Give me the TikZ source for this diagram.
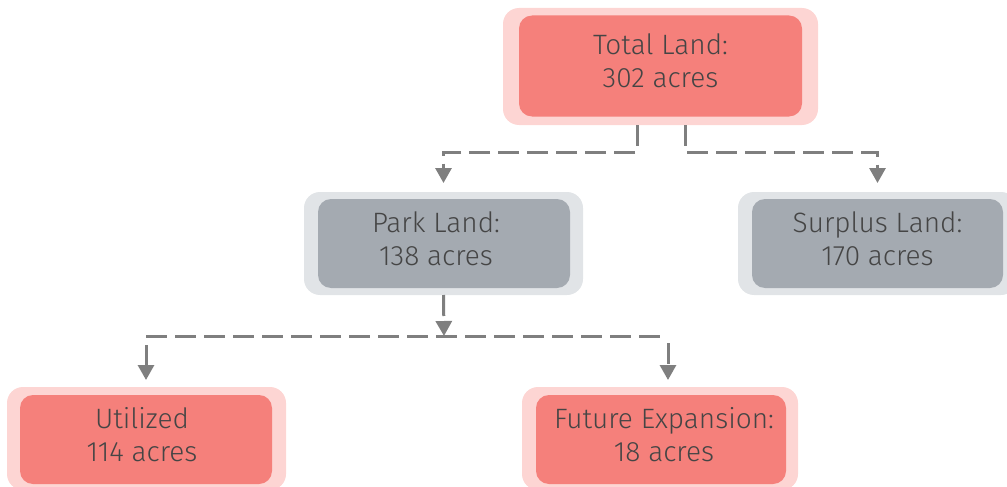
\documentclass[tikz,border=0pt]{standalone}
\usepackage{fontspec}
\setmainfont{Fira Sans}[UprightFont={* Light}]
\usetikzlibrary{arrows.meta}
\definecolor{pinkin}{HTML}{F5807B}
\definecolor{pinkout}{HTML}{FDD5D3}
\definecolor{grayin}{HTML}{A4AAB1}
\definecolor{grayout}{HTML}{E1E4E7}
\definecolor{txt}{HTML}{454545}
\definecolor{lin}{HTML}{7F7F7F}
\begin{document}
\begin{tikzpicture}[x=1pt,y=-1pt,
  halo/.style={rounded corners=16pt, inner sep=0pt, outer sep=0pt},
  box/.style={rounded corners=13pt, inner sep=0pt, outer sep=0pt, align=center, text=txt,
    font=\fontsize{28}{33}\selectfont},
  pinkhalo/.style={halo, fill=pinkout},
  grayhalo/.style={halo, fill=grayout},
  pinkbox/.style={box, fill=pinkin},
  graybox/.style={box, fill=grayin},
  dline/.style={draw=lin, line width=3pt, dash pattern=on 21pt off 8pt},
  conn/.style={dline, -{Triangle[width=16pt,length=15pt]}}]
\useasboundingbox (0,0) rectangle (1007,487);

% Total
\node[pinkhalo, minimum width=315pt, minimum height=117pt] (totO) at (660.5,66.5) {};
\node[pinkbox, minimum width=283pt, minimum height=101pt] (tot) at (660.5,66) {Total Land:\\302 acres\strut};
% Park
\node[grayhalo, minimum width=279pt, minimum height=103pt] (parkO) at (443.5,243.5) {};
\node[graybox, minimum width=252pt, minimum height=89pt] (park) at (444,243.5) {\hspace*{-16pt}Park Land:\\\hspace*{-16pt}138 acres\strut};
% Surplus
\node[grayhalo, minimum width=279pt, minimum height=103pt] (surO) at (877.5,243.5) {};
\node[graybox, minimum width=251pt, minimum height=89pt] (sur) at (877.5,243.5) {Surplus Land:\\170 acres\strut};
% Utilized
\node[pinkhalo, minimum width=279pt, minimum height=103pt] (utilO) at (146.5,438.5) {};
\node[pinkbox, minimum width=252pt, minimum height=89pt] (util) at (146,439.5) {\hspace*{-8pt}Utilized\\\hspace*{-8pt}114 acres\strut};
% Future
\node[pinkhalo, minimum width=276pt, minimum height=103pt] (futO) at (660,438.5) {};
\node[pinkbox, minimum width=250pt, minimum height=89pt] (fut) at (661,439.5) {\hspace*{6pt}Future Expansion:\\\hspace*{6pt}18 acres\strut};

% connectors from Total
\draw[conn] ([xshift=-23.5pt]totO.south) -- ++(0,27) -| ([yshift=9pt]parkO.north);
\draw[conn] ([xshift=24.5pt]totO.south) -- ++(0,27) -| ([yshift=9pt]surO.north);

% connectors from Park
\coordinate (j) at (444,336);
\draw[conn] (parkO.south) -- (j);
\draw[dline] (j -| util.north) -- (j -| futO.north);
\draw[conn] ([yshift=-9pt]j -| util.north) -- ([yshift=7pt]util.north |- utilO.north);
\draw[conn] ([xshift=7pt,yshift=-7pt]j -| fut.north) -- ([xshift=7pt,yshift=7pt]fut.north |- futO.north);
\end{tikzpicture}
\end{document}
